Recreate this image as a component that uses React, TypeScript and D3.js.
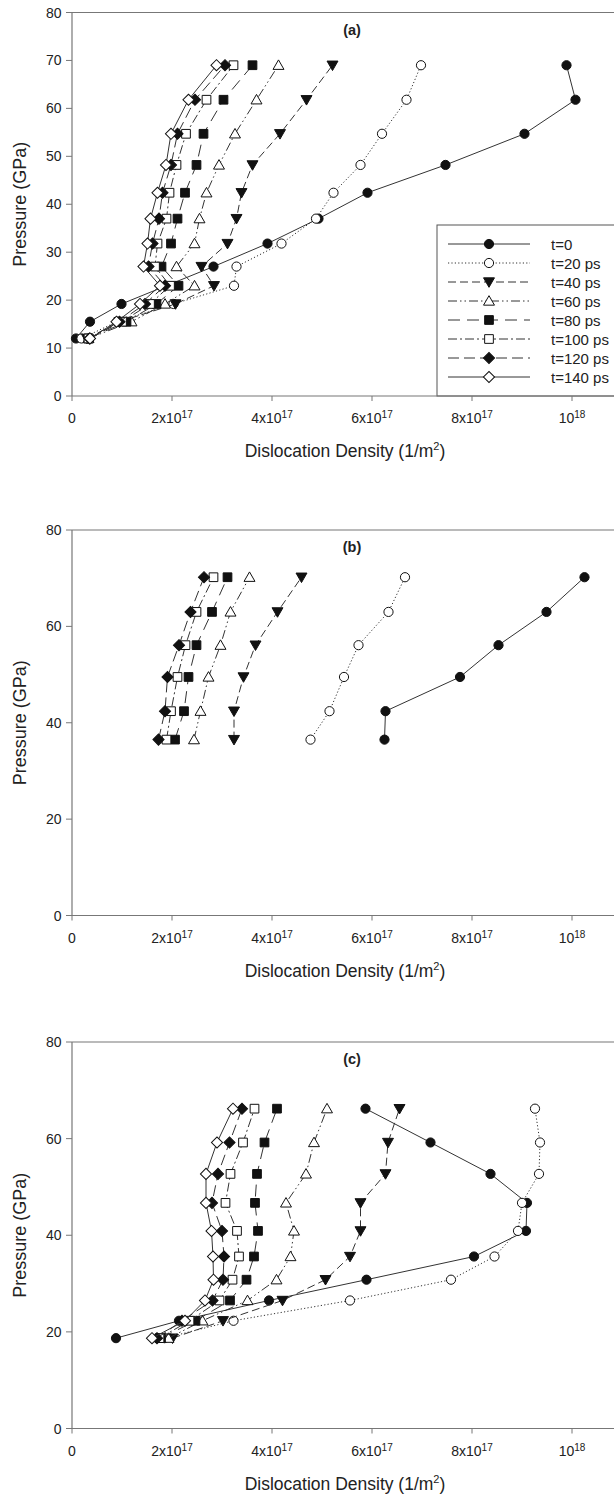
import React from "react";
import * as d3 from "d3";

// ---------- DATA (x in units of 1e17 1/m^2, y in GPa) ----------
const seriesNames = ["t=0", "t=20 ps", "t=40 ps", "t=60 ps", "t=80 ps", "t=100 ps", "t=120 ps", "t=140 ps"];

const pressureA = [12, 15.5, 19.2, 23, 27, 31.8, 37, 42.4, 48.2, 54.7, 61.8, 69];
const a_t0 = [0.08, 0.36, 0.99, null, 2.83, 3.91, 4.93, 5.91, 7.47, 9.05, 10.07, 9.89];
const a_t20 = [0.19, 0.9, 2.03, 3.24, 3.29, 4.19, 4.88, 5.23, 5.77, 6.2, 6.69, 6.98];
const a_t40 = [0.3, 0.95, 2.07, 2.84, 2.59, 3.11, 3.29, 3.39, 3.61, 4.16, 4.69, 5.21];
const a_t60 = [0.33, 1.19, 1.86, 2.45, 2.09, 2.45, 2.55, 2.69, 2.94, 3.26, 3.69, 4.13];
const a_t80 = [0.33, 1.09, 1.69, 2.13, 1.79, 1.98, 2.11, 2.26, 2.49, 2.63, 3.03, 3.61];
const a_t100 = [0.33, 1.0, 1.56, 1.96, 1.66, 1.71, 1.89, 1.95, 2.09, 2.28, 2.69, 3.23];
const a_t120 = [0.35, 0.95, 1.46, 1.86, 1.53, 1.61, 1.74, 1.81, 1.98, 2.11, 2.46, 3.06];
const a_t140 = [0.36, 0.89, 1.36, 1.76, 1.43, 1.51, 1.57, 1.71, 1.88, 1.98, 2.33, 2.89];

const pressureB = [36.5, 42.4, 49.5, 56.1, 63.0, 70.2];
const b_t0 = [6.25, 6.27, 7.76, 8.53, 9.49, 10.25];
const b_t20 = [4.77, 5.15, 5.44, 5.73, 6.33, 6.66];
const b_t40 = [3.24, 3.24, 3.43, 3.67, 4.11, 4.59];
const b_t60 = [2.44, 2.57, 2.73, 2.97, 3.17, 3.55];
const b_t80 = [2.06, 2.24, 2.33, 2.49, 2.8, 3.11];
const b_t100 = [1.89, 1.98, 2.11, 2.27, 2.49, 2.83];
const b_t120 = [1.73, 1.86, 1.91, 2.14, 2.37, 2.64];

const pressureC = [18.7, 22.3, 26.5, 30.8, 35.6, 40.9, 46.7, 52.7, 59.2, 66.2];
const c_t0 = [0.88, 2.14, 3.94, 5.89, 8.04, 9.08, 9.1, 8.37, 7.17, 5.87];
const c_t20 = [1.85, 3.23, 5.56, 7.58, 8.45, 8.92, 9.0, 9.34, 9.36, 9.26];
const c_t40 = [2.01, 3.02, 4.21, 5.07, 5.56, 5.77, 5.77, 6.27, 6.32, 6.55];
const c_t60 = [1.93, 2.61, 3.51, 4.09, 4.37, 4.44, 4.28, 4.68, 4.84, 5.1];
const c_t80 = [1.78, 2.47, 3.16, 3.49, 3.64, 3.72, 3.66, 3.7, 3.85, 4.1];
const c_t100 = [1.75, 2.35, 2.95, 3.21, 3.34, 3.3, 3.07, 3.17, 3.42, 3.65];
const c_t120 = [1.7, 2.2, 2.81, 3.02, 3.04, 3.0, 2.8, 2.92, 3.15, 3.4];
const c_t140 = [1.6, 2.26, 2.66, 2.83, 2.82, 2.79, 2.68, 2.68, 2.9, 3.22];

const yTicks = [0, 10, 20, 30, 40, 50, 60, 70, 80];
const yTicksB = [0, 20, 40, 60, 80];
const xTickValues = [0, 2e17, 4e17, 6e17, 8e17, 1e18];
const xTickMant = ["0", "2x10", "4x10", "6x10", "8x10", "10"];
const xTickExp = ["", "17", "17", "17", "17", "18"];

// ---------- STYLE ----------
const FONT = "'Liberation Sans', Arial, Helvetica, sans-serif";
const markerKinds = ["circleF", "circleO", "triDownF", "triUpO", "squareF", "squareO", "diamondF", "diamondO"];
const dashes = ["", "1.2 2.2", "8 4", "9 3 1.5 3 1.5 3", "12 7", "9 3 2 3", "11 5", ""];

function Marker({ kind, x, y }: { kind: string; x: number; y: number }) {
  const filled = kind.endsWith("F");
  const fill = filled ? "#111" : "#fff";
  const common = { fill, stroke: "#111", strokeWidth: 1 };
  if (kind.startsWith("circle")) return <circle cx={x} cy={y} r={4.6} {...common} />;
  if (kind.startsWith("square")) {
    const p = d3.symbol(d3.symbolSquare, 76)();
    return <path d={p || ""} transform={`translate(${x},${y})`} {...common} />;
  }
  if (kind.startsWith("diamond")) {
    const p = d3.symbol(d3.symbolSquare, 62)();
    return <path d={p || ""} transform={`translate(${x},${y}) rotate(45)`} {...common} />;
  }
  const p = d3.symbol(d3.symbolTriangle, 52)();
  const rot = kind.startsWith("triDown") ? 180 : 0;
  return <path d={p || ""} transform={`translate(${x},${y + (rot ? -1 : 1)}) rotate(${rot})`} {...common} />;
}

type PanelProps = {
  top: number;
  bottom: number;
  label: string;
  pressures: number[];
  series: (number | null)[][];
  ticks: number[];
  legend?: boolean;
};

function Panel({ top, bottom, label, pressures, series, ticks, legend }: PanelProps) {
  const x = d3.scaleLinear().domain([0, 1e18]).range([72, 572]);
  const y = d3.scaleLinear().domain([0, 80]).range([bottom, top]);
  const line = d3
    .line<[number, number]>()
    .x((d) => x(d[0] * 1e17))
    .y((d) => y(d[1]));
  const axisColor = "#777";
  const legTop = bottom - 171;
  return (
    <g>
      {/* frame */}
      <line x1={72} x2={640} y1={top} y2={top} stroke={axisColor} strokeWidth={1.2} />
      <line x1={72} x2={72} y1={top} y2={bottom} stroke={axisColor} strokeWidth={1.2} />
      {/* legend box */}
      {legend && (
        <g>
          <rect x={437} y={legTop} width={200} height={bottom - legTop} fill="#fff" stroke="#555" strokeWidth={1} />
          {seriesNames.map((n, i) => {
            const ly = legTop + 19 + i * 19;
            return (
              <g key={n}>
                <line x1={448} x2={530} y1={ly} y2={ly} stroke="#333" strokeWidth={1} strokeDasharray={dashes[i]} />
                <Marker kind={markerKinds[i]} x={489} y={ly} />
                <text x={551} y={ly + 5.5} fontSize={15} fontFamily={FONT} fill="#222">
                  {n}
                </text>
              </g>
            );
          })}
        </g>
      )}
      <line x1={72} x2={640} y1={bottom} y2={bottom} stroke={axisColor} strokeWidth={1.2} />
      {/* y ticks */}
      {ticks.map((t) => (
        <g key={t}>
          <line x1={66} x2={72} y1={y(t)} y2={y(t)} stroke={axisColor} strokeWidth={1} />
          <text x={61.5} y={y(t) + 5} textAnchor="end" fontSize={14} fontFamily={FONT} fill="#222">
            {t}
          </text>
        </g>
      ))}
      {/* x ticks */}
      {xTickValues.map((t, i) => (
        <g key={t}>
          <line x1={x(t)} x2={x(t)} y1={bottom} y2={bottom + 5} stroke={axisColor} strokeWidth={1} />
          <text x={x(t)} y={bottom + 27} textAnchor="middle" fontSize={14} fontFamily={FONT} fill="#222">
            {xTickMant[i]}
            {xTickExp[i] && (
              <tspan dy={-5} fontSize={10}>
                {xTickExp[i]}
              </tspan>
            )}
          </text>
        </g>
      ))}
      {/* axis titles */}
      <text x={345} y={bottom + 61} textAnchor="middle" fontSize={17.5} fontFamily={FONT} fill="#222">
        Dislocation Density (1/m
        <tspan dy={-7} fontSize={11}>
          2
        </tspan>
        <tspan dy={7}>)</tspan>
      </text>
      <text
        transform={`translate(26,${(top + bottom) / 2}) rotate(-90)`}
        textAnchor="middle"
        fontSize={18}
        fontFamily={FONT}
        fill="#222"
      >
        Pressure (GPa)
      </text>
      <text x={352} y={top + 22} textAnchor="middle" fontSize={14.5} fontWeight="bold" fontFamily={FONT} fill="#222">
        {label}
      </text>
      {/* data */}
      {series.map((vals, si) => {
        if (!vals) return null;
        const pts: [number, number][] = [];
        vals.forEach((v, i) => {
          if (v !== null && v !== undefined) pts.push([v, pressures[i]]);
        });
        return (
          <g key={si}>
            <path d={line(pts) || ""} fill="none" stroke="#333" strokeWidth={1} strokeDasharray={dashes[si]} />
            {pts.map((p, j) => (
              <Marker key={j} kind={markerKinds[si]} x={x(p[0] * 1e17)} y={y(p[1])} />
            ))}
          </g>
        );
      })}
    </g>
  );
}

export default function App() {
  const seriesA = [a_t0, a_t20, a_t40, a_t60, a_t80, a_t100, a_t120, a_t140];
  const seriesB = [b_t0, b_t20, b_t40, b_t60, b_t80, b_t100, b_t120, null as any];
  const seriesC = [c_t0, c_t20, c_t40, c_t60, c_t80, c_t100, c_t120, c_t140];
  return (
    <svg
      width={614}
      height={1498}
      style={{ position: "absolute", left: 0, top: 0, background: "#fff" }}
    >
      <rect x={0} y={0} width={614} height={1498} fill="#fff" />
      <Panel top={12.5} bottom={396} label="(a)" pressures={pressureA} series={seriesA} ticks={yTicks} legend />
      <Panel top={530} bottom={915.5} label="(b)" pressures={pressureB} series={seriesB} ticks={yTicksB} />
      <Panel top={1042} bottom={1428.5} label="(c)" pressures={pressureC} series={seriesC} ticks={yTicksB} />
    </svg>
  );
}
